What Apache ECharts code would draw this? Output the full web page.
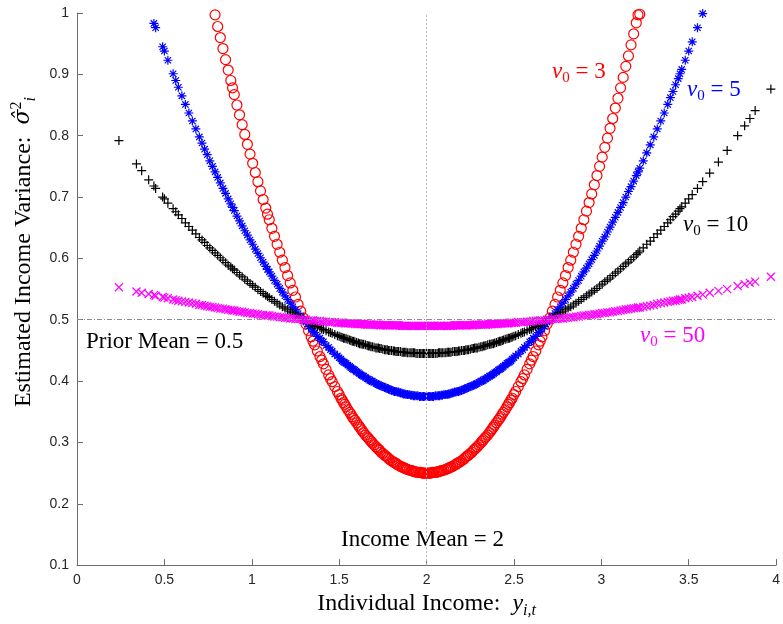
<!DOCTYPE html>
<html>
<head>
<meta charset="utf-8">
<script src="https://cdn.jsdelivr.net/npm/echarts@6/dist/echarts.min.js"></script>
<style>
html,body{margin:0;padding:0;background:#fff}
#main{width:783px;height:624px}
</style>
</head>
<body>
<div id="main"></div>
<script>
// individual incomes (shared by every prior strength)
var incomeX = [
  0.24,0.34,0.37,0.41,0.44,0.45,0.49,0.50,0.55,0.58,0.62,0.66,0.70,0.73,0.76,0.79,0.82,0.85,0.88,0.90,0.93,0.96,0.99,1.02,1.05,1.08,1.10,1.13,1.16,1.19,1.22,1.25,1.28,
  1.31,1.34,1.36,1.39,1.41,1.44,1.46,1.49,1.51,1.54,1.56,1.59,1.61,1.64,1.66,1.69,1.71,1.74,1.76,1.79,1.81,1.84,1.86,1.89,1.91,1.94,1.96,1.99,
  2.01,2.04,2.06,2.09,2.11,2.14,2.16,2.19,2.21,2.24,2.26,2.29,2.31,2.34,2.36,2.39,2.41,2.44,2.46,2.49,2.51,2.54,2.56,2.59,2.61,2.64,2.66,2.69,
  2.72,2.75,2.78,2.81,2.84,2.87,2.90,2.93,2.96,2.99,3.02,3.05,3.08,3.11,3.14,3.17,3.20,3.22,3.26,3.30,3.34,3.38,3.41,3.44,3.46,3.50,3.55,3.58,3.62,3.67,3.72,3.78,3.82,3.85,3.88,3.97,
  // more incomes
  0.52,0.565,0.60,0.64,0.68,0.715,0.745,0.775,0.805,0.835,0.865,0.89,0.915,0.945,0.975,1.005,1.035,1.065,1.09,1.115,1.145,1.175,1.205,1.235,1.265,1.295,
  1.325,1.35,1.375,1.40,1.425,1.45,1.475,1.50,1.525,1.55,1.575,1.60,1.625,1.65,1.675,1.70,1.725,1.75,1.775,1.80,1.825,1.85,1.875,1.90,1.925,1.95,1.975,2.00,
  2.025,2.05,2.075,2.10,2.125,2.15,2.175,2.20,2.225,2.25,2.275,2.30,2.325,2.35,2.375,2.40,2.425,2.45,2.475,2.50,2.525,2.55,2.575,2.60,2.625,2.65,2.675,
  2.705,2.735,2.765,2.795,2.825,2.855,2.885,2.915,2.945,2.975,3.005,3.035,3.065,3.095,3.125,3.155,3.185,3.21,3.24,3.28,3.32,3.36,3.395,3.425,3.45,3.48,3.52,
  // incomes near the mean
  1.517,1.532,1.567,1.582,1.617,1.632,1.667,1.682,1.717,1.732,1.767,1.782,1.817,1.832,1.867,1.882,1.917,1.932,1.967,1.982,
  2.018,2.033,2.068,2.083,2.118,2.133,2.168,2.183,2.218,2.233,2.268,2.283,2.318,2.333,2.368,2.383,2.418,2.433,2.468,2.483
];
// estimated variance, nu0 = 3 (null = above the plotted range)
var varNu3 = [
  null,null,null,null,null,null,null,null,null,null,null,null,null,null,null,
  0.997,0.960,0.924,0.890,0.867,0.834,0.802,0.770,0.740,0.710,0.682,0.663,0.636,0.610,0.585,0.560,0.537,0.514,
  0.493,0.472,0.459,0.440,0.428,0.410,0.399,0.383,0.372,0.358,0.349,0.336,0.328,0.316,0.309,0.299,0.293,0.284,0.279,0.272,0.268,0.263,0.260,0.256,0.254,0.252,0.251,0.250,
  0.250,0.251,0.252,0.254,0.256,0.260,0.263,0.268,0.272,0.279,0.284,0.293,0.299,0.309,0.316,0.328,0.336,0.349,0.358,0.372,0.383,0.399,0.410,0.428,0.440,0.459,0.472,0.493,
  0.514,0.537,0.560,0.585,0.610,0.636,0.663,0.691,0.720,0.750,0.781,0.812,0.845,0.878,0.913,0.948,0.984,0.998,
  null,null,null,null,null,null,null,null,null,null,null,null,null,null,null,null,null,null,
  null,null,null,null,null,null,null,null,
  0.978,0.942,0.907,0.878,0.850,0.818,0.786,0.755,0.725,0.696,0.672,0.649,0.623,0.597,0.572,0.548,0.525,0.503,
  0.482,0.465,0.449,0.434,0.419,0.404,0.391,0.378,0.365,0.353,0.342,0.332,0.322,0.312,0.304,0.296,0.289,0.282,0.276,0.270,0.266,0.261,0.258,0.255,0.253,0.251,0.250,0.250,
  0.250,0.251,0.253,0.255,0.258,0.261,0.266,0.270,0.276,0.282,0.289,0.296,0.304,0.312,0.322,0.332,0.342,0.353,0.365,0.378,0.391,0.404,0.419,0.434,0.449,0.465,0.482,
  0.503,0.525,0.548,0.572,0.597,0.623,0.649,0.677,0.705,0.735,0.765,0.796,0.828,0.861,0.895,0.930,0.966,0.997,
  null,null,null,null,null,null,null,null,null,
  0.369,0.362,0.346,0.339,0.325,0.319,0.307,0.302,0.291,0.287,0.278,0.274,0.267,0.264,0.259,0.257,0.254,0.252,0.251,0.250,
  0.250,0.251,0.252,0.254,0.257,0.259,0.264,0.267,0.274,0.278,0.287,0.291,0.302,0.307,0.319,0.325,0.339,0.346,0.362,0.369
];
// nu0 = 5
var varNu5 = [
  null,null,null,null,
  0.983,0.976,0.945,0.938,0.901,0.879,0.851,0.824,0.798,0.778,0.759,0.741,0.723,0.706,0.689,0.678,0.661,0.645,0.630,0.615,0.601,0.587,0.578,0.564,0.551,0.539,0.527,0.516,0.505,
  0.496,0.486,0.479,0.470,0.464,0.455,0.449,0.441,0.436,0.429,0.424,0.418,0.414,0.408,0.404,0.400,0.396,0.392,0.390,0.386,0.384,0.382,0.380,0.378,0.377,0.376,0.375,0.375,
  0.375,0.375,0.376,0.377,0.378,0.380,0.382,0.384,0.386,0.390,0.392,0.396,0.400,0.404,0.408,0.414,0.418,0.424,0.429,0.436,0.441,0.449,0.455,0.464,0.470,0.479,0.486,0.496,
  0.505,0.516,0.527,0.539,0.551,0.564,0.578,0.591,0.605,0.620,0.635,0.651,0.667,0.683,0.700,0.717,0.735,0.747,0.772,0.798,0.824,0.851,0.872,0.893,0.908,0.938,0.976,0.999,
  null,null,null,null,null,null,null,null,
  0.923,0.890,0.865,0.837,0.811,0.788,0.769,0.750,0.732,0.714,0.697,0.683,0.669,0.653,0.638,0.623,0.608,0.594,0.582,0.571,0.558,0.545,0.533,0.521,0.510,0.499,
  0.489,0.481,0.473,0.465,0.458,0.451,0.444,0.438,0.431,0.426,0.420,0.415,0.410,0.406,0.401,0.398,0.394,0.391,0.388,0.385,0.383,0.381,0.379,0.378,0.376,0.376,0.375,0.375,
  0.375,0.376,0.376,0.378,0.379,0.381,0.383,0.385,0.388,0.391,0.394,0.398,0.401,0.406,0.410,0.415,0.420,0.426,0.431,0.438,0.444,0.451,0.458,0.465,0.473,0.481,0.489,
  0.499,0.510,0.521,0.533,0.545,0.558,0.571,0.584,0.598,0.612,0.628,0.643,0.659,0.675,0.691,0.709,0.726,0.741,0.759,0.785,0.811,0.837,0.862,0.883,0.901,0.923,0.953,
  0.433,0.430,0.422,0.419,0.412,0.409,0.403,0.400,0.395,0.393,0.389,0.387,0.383,0.382,0.379,0.378,0.377,0.376,0.375,0.375,
  0.375,0.375,0.376,0.377,0.378,0.379,0.382,0.383,0.387,0.389,0.393,0.395,0.400,0.403,0.409,0.412,0.419,0.422,0.430,0.433
];
// nu0 = 10
var varNu10 = [
  0.792,0.754,0.743,0.728,0.718,0.714,0.700,0.697,0.681,0.671,0.658,0.646,0.634,0.626,0.617,0.609,0.601,0.593,0.586,0.581,0.573,0.566,0.559,0.553,0.546,0.540,0.536,0.530,0.524,0.519,0.513,0.508,0.503,
  0.498,0.494,0.491,0.487,0.484,0.480,0.478,0.474,0.472,0.469,0.467,0.464,0.462,0.460,0.458,0.456,0.454,0.453,0.451,0.450,0.449,0.448,0.447,0.446,0.446,0.445,0.445,0.445,
  0.445,0.445,0.445,0.446,0.446,0.447,0.448,0.449,0.450,0.451,0.453,0.454,0.456,0.458,0.460,0.462,0.464,0.467,0.469,0.472,0.474,0.478,0.480,0.484,0.487,0.491,0.494,0.498,
  0.503,0.508,0.513,0.519,0.524,0.530,0.536,0.542,0.548,0.555,0.562,0.568,0.576,0.583,0.591,0.598,0.606,0.612,0.623,0.634,0.646,0.658,0.668,0.677,0.684,0.697,0.714,0.725,0.739,0.757,0.776,0.800,0.816,0.828,0.841,0.876,
  0.690,0.676,0.665,0.652,0.640,0.630,0.621,0.613,0.605,0.597,0.589,0.583,0.577,0.570,0.563,0.556,0.549,0.543,0.538,0.533,0.527,0.521,0.516,0.511,0.506,0.501,
  0.496,0.492,0.489,0.485,0.482,0.479,0.476,0.473,0.470,0.468,0.465,0.463,0.461,0.459,0.457,0.455,0.454,0.452,0.451,0.450,0.448,0.448,0.447,0.446,0.446,0.445,0.445,0.445,
  0.445,0.445,0.446,0.446,0.447,0.448,0.448,0.450,0.451,0.452,0.454,0.455,0.457,0.459,0.461,0.463,0.465,0.468,0.470,0.473,0.476,0.479,0.482,0.485,0.489,0.492,0.496,
  0.501,0.506,0.511,0.516,0.521,0.527,0.533,0.539,0.545,0.551,0.558,0.565,0.572,0.579,0.587,0.594,0.602,0.609,0.617,0.628,0.640,0.652,0.663,0.672,0.681,0.690,0.704,
  0.471,0.470,0.466,0.465,0.461,0.460,0.457,0.456,0.454,0.453,0.451,0.450,0.449,0.448,0.447,0.447,0.446,0.446,0.445,0.445,
  0.445,0.445,0.446,0.446,0.447,0.447,0.448,0.449,0.450,0.451,0.453,0.454,0.456,0.457,0.460,0.461,0.465,0.466,0.470,0.471
];
// nu0 = 50
var varNu50 = [
  0.553,0.546,0.544,0.542,0.540,0.539,0.537,0.536,0.533,0.531,0.529,0.527,0.524,0.523,0.521,0.520,0.518,0.517,0.516,0.515,0.513,0.512,0.511,0.510,0.508,0.507,0.507,0.505,0.504,0.503,0.502,0.501,0.501,
  0.500,0.499,0.498,0.498,0.497,0.496,0.496,0.495,0.495,0.494,0.494,0.493,0.493,0.493,0.492,0.492,0.492,0.491,0.491,0.491,0.491,0.491,0.490,0.490,0.490,0.490,0.490,0.490,
  0.490,0.490,0.490,0.490,0.490,0.490,0.491,0.491,0.491,0.491,0.491,0.492,0.492,0.492,0.493,0.493,0.493,0.494,0.494,0.495,0.495,0.496,0.496,0.497,0.498,0.498,0.499,0.500,
  0.501,0.501,0.502,0.503,0.504,0.505,0.507,0.508,0.509,0.510,0.511,0.512,0.514,0.515,0.517,0.518,0.519,0.520,0.522,0.524,0.527,0.529,0.531,0.532,0.533,0.536,0.539,0.541,0.544,0.547,0.550,0.555,0.558,0.560,0.562,0.570,
  0.535,0.532,0.530,0.528,0.526,0.524,0.522,0.521,0.519,0.518,0.516,0.515,0.514,0.513,0.511,0.510,0.509,0.508,0.507,0.506,0.505,0.504,0.503,0.502,0.501,0.500,
  0.499,0.499,0.498,0.497,0.497,0.496,0.496,0.495,0.495,0.494,0.494,0.493,0.493,0.492,0.492,0.492,0.492,0.491,0.491,0.491,0.491,0.490,0.490,0.490,0.490,0.490,0.490,0.490,
  0.490,0.490,0.490,0.490,0.490,0.490,0.491,0.491,0.491,0.491,0.492,0.492,0.492,0.492,0.493,0.493,0.494,0.494,0.495,0.495,0.496,0.496,0.497,0.497,0.498,0.499,0.499,
  0.500,0.501,0.502,0.503,0.504,0.505,0.506,0.507,0.508,0.509,0.511,0.512,0.513,0.514,0.516,0.517,0.519,0.520,0.521,0.523,0.526,0.528,0.530,0.531,0.533,0.535,0.537,
  0.495,0.494,0.494,0.494,0.493,0.493,0.492,0.492,0.492,0.491,0.491,0.491,0.491,0.491,0.490,0.490,0.490,0.490,0.490,0.490,
  0.490,0.490,0.490,0.490,0.490,0.490,0.491,0.491,0.491,0.491,0.491,0.492,0.492,0.492,0.493,0.493,0.494,0.494,0.494,0.495
];
var priorMean = 0.5;
var incomeMean = 2;

function pairs(ys){
  var out = [];
  for (var i = 0; i < incomeX.length; i++) {
    if (ys[i] != null) out.push([incomeX[i], ys[i]]);
  }
  return out;
}

var serif = "'Liberation Serif', 'DejaVu Serif', serif";
var sans = "'Liberation Sans', Arial, sans-serif";

// matlab style markers
var plusPath = 'path://M0,5L10,5M5,0L5,10';
var crossPath = 'path://M0,0L10,10M0,10L10,0';
var starPath = 'path://M0,5L10,5M5,0L5,10M1.5,1.5L8.5,8.5M1.5,8.5L8.5,1.5';

function markerSeries(name, ys, symbol, size, color){
  return {
    name: name,
    type: 'scatter',
    data: pairs(ys),
    symbol: symbol,
    symbolSize: size,
    itemStyle: {color: 'rgba(0,0,0,0)', borderColor: color, borderWidth: 1.2, opacity: 1},
    clip: true,
    silent: true
  };
}

function nuLabel(val, color){
  return {
    text: '{n|ν}{s|0}{t| = ' + val + '}',
    rich: {
      n: {fontFamily: serif, fontStyle: 'italic', fontSize: 23, lineHeight: 28, fill: color},
      s: {fontFamily: serif, fontSize: 15, verticalAlign: 'bottom', fill: color},
      t: {fontFamily: serif, fontSize: 23, lineHeight: 28, fill: color}
    }
  };
}

var chart = echarts.init(document.getElementById('main'));
var option = {
  animation: false,
  backgroundColor: '#fff',
  grid: {left: 77, right: 4, top: 13, bottom: 57, containLabel: false},
  xAxis: {
    type: 'value', min: 0, max: 4, interval: 0.5,
    name: '{r|Individual Income:  }{i|y}{s|i,t}',
    nameLocation: 'middle', nameGap: 19,
    nameTextStyle: {
      rich: {
        r: {fontFamily: serif, fontSize: 24, lineHeight: 30, color: '#000'},
        i: {fontFamily: serif, fontSize: 24, fontStyle: 'italic', lineHeight: 30, color: '#000'},
        s: {fontFamily: serif, fontSize: 16, fontStyle: 'italic', verticalAlign: 'bottom', color: '#000'}
      }
    },
    axisLine: {show: true, lineStyle: {color: '#6b6b6b', width: 1}},
    axisTick: {show: true, inside: true, length: 6, lineStyle: {color: '#6b6b6b'}},
    axisLabel: {color: '#262626', fontFamily: sans, fontSize: 14, margin: 8},
    splitLine: {show: false}
  },
  yAxis: {
    type: 'value', min: 0.1, max: 1, interval: 0.1,
    name: '{r|Estimated Income Variance:  }{i|σ\u0302}{p|2}{s|i}',
    nameLocation: 'middle', nameGap: 35, nameRotate: 90,
    nameTextStyle: {
      padding: [0, 0, 0, 74],
      rich: {
        r: {fontFamily: serif, fontSize: 24, lineHeight: 30, color: '#000'},
        i: {fontFamily: "'DejaVu Serif', serif", fontSize: 22, fontStyle: 'italic', lineHeight: 30, color: '#000'},
        p: {fontFamily: serif, fontSize: 16, verticalAlign: 'top', color: '#000'},
        s: {fontFamily: serif, fontSize: 16, fontStyle: 'italic', verticalAlign: 'bottom', color: '#000'}
      }
    },
    axisLine: {show: true, lineStyle: {color: '#6b6b6b', width: 1}},
    axisTick: {show: true, inside: true, length: 6, lineStyle: {color: '#6b6b6b'}},
    axisLabel: {color: '#262626', fontFamily: sans, fontSize: 14, margin: 8},
    splitLine: {show: false}
  },
  series: [
    markerSeries('nu0=3', varNu3, 'circle', 10, '#ff0000'),
    markerSeries('nu0=5', varNu5, starPath, 9, '#0000ff'),
    markerSeries('nu0=10', varNu10, plusPath, 9, '#000000'),
    markerSeries('nu0=50', varNu50, crossPath, 8, '#ff00ff'),
    {
      type: 'scatter', data: [], silent: true, z: 5,
      markLine: {
        silent: true, symbol: ['none', 'none'], label: {show: false},
        data: [
          {xAxis: incomeMean, lineStyle: {color: '#b5b5b5', width: 1, type: [2, 2]}},
          {yAxis: priorMean, lineStyle: {color: '#8c8c8c', width: 1, type: [5, 2, 1, 2]}}
        ]
      }
    }
  ],
  graphic: [
    {type: 'text', left: 552, top: 60, style: nuLabel(3, '#ff0000')},
    {type: 'text', left: 687, top: 78, style: nuLabel(5, '#0000ff')},
    {type: 'text', left: 683, top: 213, style: nuLabel(10, '#000000')},
    {type: 'text', left: 640, top: 324, style: nuLabel(50, '#ff00ff')},
    {type: 'text', left: 86, top: 330, style: {text: 'Prior Mean = 0.5', font: '23px ' + serif, fill: '#000'}},
    {type: 'text', left: 341, top: 528, style: {text: 'Income Mean = 2', font: '23px ' + serif, fill: '#000'}}
  ]
};
chart.setOption(option);
</script>
</body>
</html>
